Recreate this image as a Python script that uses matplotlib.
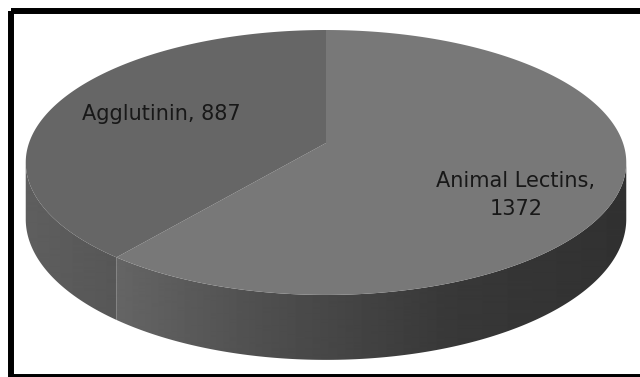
import numpy as np
import matplotlib.pyplot as plt
from matplotlib.patches import Polygon, Rectangle

# data
labels = ['Animal Lectins', 'Agglutinin']
values = [1372, 887]
label_text = ['Animal Lectins,\n1372', 'Agglutinin, 887']

# styles
top_colors = ['#787878', '#666666']
# grey level of the rim, as (x pixel, level) control points
side_shade = [
    [(110, 0.40), (260, 0.31), (450, 0.22), (640, 0.19)],
    [(0, 0.38), (118, 0.34)],
]

W, H = 640, 377
fig = plt.figure(figsize=(W / 100, H / 100), dpi=100)
ax = fig.add_axes([0, 0, 1, 1])
ax.set_xlim(0, W)
ax.set_ylim(H, 0)
ax.axis('off')

# simple perspective view of the disc
CX, CY = 326, 143
A, B, K = 297, 129.6, 0.147
D = 55.4


def proj(theta, r=1.0, h=0.0):
    u = r * np.cos(theta)
    v = r * np.sin(theta)
    s = 1 / (1 + K * v)
    return CX + A * u * s, CY - B * v * s + h * D * s


# slice angles, start at 12 o'clock and go clockwise
fracs = np.array(values) / np.sum(values)
starts = 90 - 360 * np.concatenate([[0], np.cumsum(fracs)[:-1]])
ends = starts - 360 * fracs

vis_lo = 180 + np.degrees(np.arcsin(K))
vis_hi = 360 - np.degrees(np.arcsin(K))

# rim first
for i in range(len(values)):
    lo, hi = ends[i], starts[i]
    for shift in (-360, 0, 360):
        a = max(lo, vis_lo + shift)
        b = min(hi, vis_hi + shift)
        if b <= a:
            continue
        th = np.radians(np.linspace(a, b, 200))
        xt, yt = proj(th)
        xb, yb = proj(th[::-1], h=1.0)
        poly = Polygon(np.column_stack([np.r_[xt, xb], np.r_[yt, yb]]),
                       closed=True, facecolor='none', edgecolor='none')
        ax.add_patch(poly)
        xs = np.arange(W)
        pts = np.array(side_shade[i])
        g = np.interp(xs, pts[:, 0], pts[:, 1])
        img = ax.imshow(g[None, :], cmap='gray', vmin=0, vmax=1, aspect='auto',
                        extent=(0, W, H, 0), interpolation='bilinear')
        img.set_clip_path(poly)

# top face
for i in range(len(values)):
    th = np.radians(np.linspace(starts[i], ends[i], 300))
    x, y = proj(th)
    ax.add_patch(Polygon(np.column_stack([np.r_[CX, x], np.r_[CY, y]]),
                         closed=True, facecolor=top_colors[i], edgecolor='none'))

# labels
ax.text(516, 195, label_text[0], ha='center', va='center', multialignment='center',
        fontsize=15, color='#181818', linespacing=1.45, family='DejaVu Sans')
ax.text(161, 114, label_text[1], ha='center', va='center',
        fontsize=15, color='#181818', family='DejaVu Sans')

# frame round the picture
ax.add_patch(Rectangle((11, 11), 700, 366, fill=False, edgecolor='black',
                       linewidth=4.3, clip_on=False))

fig.savefig('out.png', dpi=100)
